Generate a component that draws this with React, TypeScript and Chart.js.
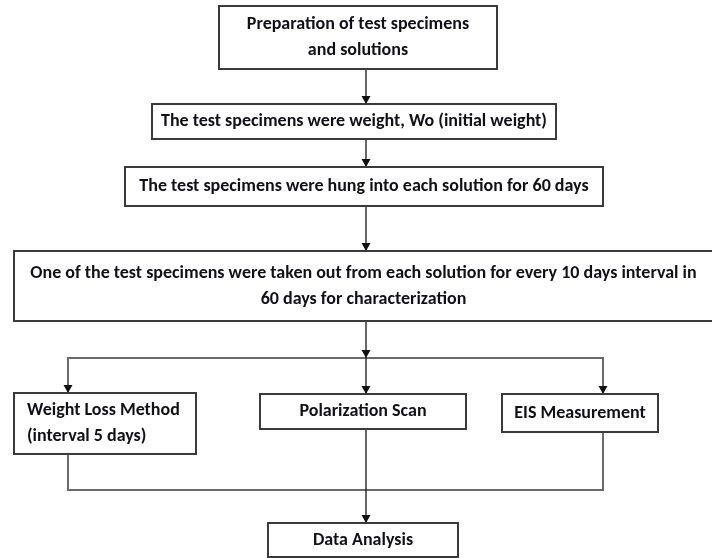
import React, { useEffect, useRef } from "react";
import { Chart, registerables } from "chart.js";

Chart.register(...registerables);

// ---- Flowchart data (chart coordinates: x 0..712, y 0..558, y downward) ----
const nodeLines: string[][] = [
  ["Preparation of test specimens", "and solutions"],
  ["The test specimens were weight, Wo (initial weight)"],
  ["The test specimens were hung into each solution for 60 days"],
  [
    "One of the test specimens were taken out from each solution for every 10 days interval in",
    "60 days for characterization",
  ],
  ["Weight Loss Method", "(interval 5 days)"],
  ["Polarization Scan"],
  ["EIS Measurement"],
  ["Data Analysis"],
];
const nodeLeft = [219, 152, 125, 14, 14, 260, 502, 268];
const nodeTop = [6, 104, 167, 251, 393, 394, 394, 523];
const nodeRight = [497, 556, 603, 713, 196, 466, 658, 458];
const nodeBottom = [69, 139, 206, 321, 454, 429, 432, 557];
const nodeAlignLeft = [false, false, false, false, true, false, false, false];

// connectors: polylines of [x, y]
const connectorPaths: number[][][] = [
  [[366, 69], [366, 104]],
  [[366, 139], [366, 167]],
  [[366, 206], [366, 251]],
  [[366, 321], [366, 394]],
  [[68, 393], [68, 358], [603, 358], [603, 394]],
  [[366, 429], [366, 523]],
  [[68, 454], [68, 490], [603, 490], [603, 432]],
];
const connectorBracket = [false, false, false, false, true, false, true];

// arrowhead tips
const arrowX = [366, 366, 366, 366, 366, 68, 603, 366];
const arrowY = [104, 167, 251, 358, 394, 393, 394, 523];

const FONT_FAMILY = "Carlito, Lato, 'Open Sans', sans-serif";

const flowPlugin = {
  id: "flow",
  afterDatasetsDraw(chart: any) {
    const ctx: CanvasRenderingContext2D = chart.ctx;
    const xs = chart.scales.x;
    const ys = chart.scales.y;
    ctx.save();
    // arrowheads
    ctx.fillStyle = "#111111";
    for (let i = 0; i < arrowX.length; i++) {
      const tx = xs.getPixelForValue(arrowX[i]);
      const ty = ys.getPixelForValue(arrowY[i]);
      ctx.beginPath();
      ctx.moveTo(tx, ty);
      ctx.lineTo(tx - 4.5, ty - 8);
      ctx.lineTo(tx + 4.5, ty - 8);
      ctx.closePath();
      ctx.fill();
    }
    // boxes
    for (let i = 0; i < nodeLines.length; i++) {
      const l = xs.getPixelForValue(nodeLeft[i]);
      const r = xs.getPixelForValue(nodeRight[i]);
      const t = ys.getPixelForValue(nodeTop[i]);
      const b = ys.getPixelForValue(nodeBottom[i]);
      ctx.fillStyle = "#ffffff";
      ctx.fillRect(l, t, r - l, b - t);
      ctx.strokeStyle = "#3a3a3a";
      ctx.lineWidth = 2;
      ctx.strokeRect(l, t, r - l, b - t);
      const lines = nodeLines[i];
      const lh = 26;
      const cy = (t + b) / 2;
      ctx.fillStyle = "#101018";
      ctx.font = `bold 18px ${FONT_FAMILY}`;
      ctx.textBaseline = "middle";
      const maxW = r - l - 16;
      for (let k = 0; k < lines.length; k++) {
        const y = cy + (k - (lines.length - 1) / 2) * lh;
        const w = ctx.measureText(lines[k]).width;
        const sx = w > maxW ? maxW / w : 1;
        ctx.save();
        if (nodeAlignLeft[i]) {
          ctx.textAlign = "left";
          ctx.translate(l + 13, y);
        } else {
          ctx.textAlign = "center";
          ctx.translate((l + r) / 2, y);
        }
        ctx.scale(sx, 1);
        ctx.fillText(lines[k], 0, 0);
        ctx.restore();
      }
    }
    ctx.restore();
  },
};

export default function App() {
  const ref = useRef<HTMLCanvasElement | null>(null);
  useEffect(() => {
    if (!ref.current) return;
    const chart = new Chart(ref.current, {
      type: "line",
      data: {
        datasets: connectorPaths.map((p, i) => ({
          data: p.map(([x, y]) => ({ x, y })),
          borderColor: connectorBracket[i] ? "#6a6a6a" : "#2a2a2a",
          borderWidth: connectorBracket[i] ? 2 : 1.4,
          pointRadius: 0,
          fill: false,
          tension: 0,
        })),
      },
      options: {
        animation: false,
        responsive: false,
        maintainAspectRatio: false,
        events: [],
        layout: { padding: 0 },
        scales: {
          x: { type: "linear", min: 0, max: 712, display: false },
          y: { type: "linear", min: 0, max: 558, reverse: true, display: false },
        },
        plugins: { legend: { display: false }, tooltip: { enabled: false } },
      },
      plugins: [flowPlugin],
    } as any);
    return () => chart.destroy();
  }, []);
  return (
    <div style={{ position: "absolute", left: 0, top: 0, width: 712, height: 558, background: "#fff" }}>
      <canvas ref={ref} width={712} height={558} />
    </div>
  );
}
